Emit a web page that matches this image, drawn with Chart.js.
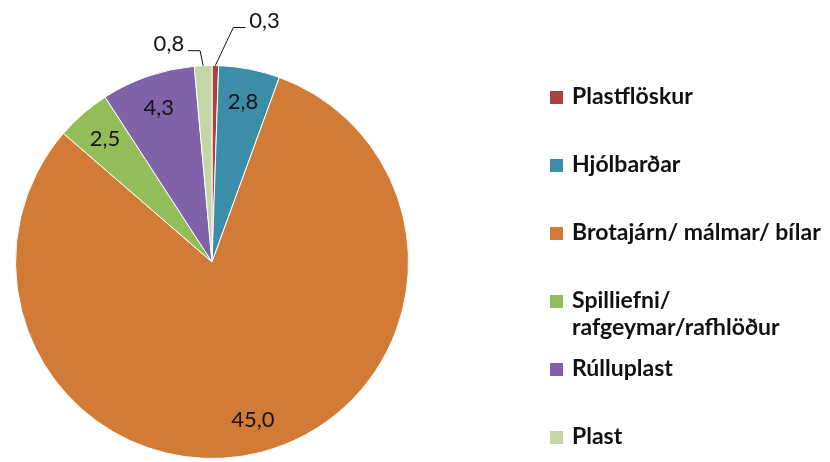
<!DOCTYPE html>
<html>
<head>
<meta charset="utf-8">
<script src="https://cdn.jsdelivr.net/npm/chart.js@4"></script>
<style>
  html, body { margin: 0; padding: 0; background: #fff; }
  #wrap { width: 830px; height: 462px; position: relative; }
</style>
</head>
<body>
<div id="wrap"><canvas id="waste-pie"></canvas></div>
<script>
const categories = [
    'Plastflöskur',
    'Hjólbarðar',
    'Brotajárn/ málmar/ bílar',
    ['Spilliefni/', 'rafgeymar/rafhlöður'],
    'Rúlluplast',
    'Plast'
];
const values = [0.3, 2.8, 45.0, 2.5, 4.3, 0.8];
const valueLabels = ['0,3', '2,8', '45,0', '2,5', '4,3', '0,8'];
const sliceColors = ['#A8423F', '#3C8EA8', '#D27B36', '#92BD58', '#7F62A7', '#C4D6A6'];

const FONT = 'Lato, "Open Sans", sans-serif';

// value labels inside the slices, leader lines for the two thin ones
const valueLabelPlugin = {
    id: 'valueLabels',
    afterDatasetsDraw(chart) {
        const ctx = chart.ctx;
        const arcs = chart.getDatasetMeta(0).data;
        ctx.save();
        ctx.fillStyle = '#141414';
        ctx.strokeStyle = '#111';
        ctx.lineWidth = 1;
        ctx.font = '22px ' + FONT;
        ctx.textBaseline = 'middle';
        arcs.forEach((arc, i) => {
            const p = arc.getProps(['x', 'y', 'startAngle', 'endAngle', 'outerRadius'], true);
            const mid = (p.startAngle + p.endAngle) / 2;
            if (values[i] >= 2) {
                const r = p.outerRadius * 0.83;
                ctx.textAlign = 'center';
                ctx.fillText(valueLabels[i], p.x + Math.cos(mid) * r, p.y + Math.sin(mid) * r);
                return;
            }
            const ax = p.x + Math.cos(mid) * p.outerRadius;
            const ay = p.y + Math.sin(mid) * p.outerRadius;
            const side = i === 0 ? 1 : -1;
            const ex = ax + (i === 0 ? 18 : -3);
            const ey = ay + (i === 0 ? -38 : -15);
            const tx = ex + side * 12;
            ctx.beginPath();
            ctx.moveTo(ax, ay);
            ctx.lineTo(ex, ey);
            ctx.lineTo(tx, ey);
            ctx.stroke();
            ctx.textAlign = side > 0 ? 'left' : 'right';
            ctx.fillText(valueLabels[i], tx + side * 4, ey - 7);
        });
        ctx.restore();
    }
};

// legend on the right, fixed slots like the original
const sideLegendPlugin = {
    id: 'sideLegend',
    afterDraw(chart) {
        const ctx = chart.ctx;
        const x0 = 550, y0 = 97, step = 68, lineH = 27;
        ctx.save();
        ctx.font = 'bold 23px ' + FONT;
        ctx.textBaseline = 'middle';
        ctx.textAlign = 'left';
        categories.forEach((label, i) => {
            const y = y0 + i * step;
            ctx.fillStyle = sliceColors[i];
            ctx.fillRect(x0, y - 6, 13, 13);
            ctx.fillStyle = '#111';
            const lines = Array.isArray(label) ? label : [label];
            lines.forEach((t, k) => ctx.fillText(t, x0 + 22, y + k * lineH));
        });
        ctx.restore();
    }
};

const pieData = {
    labels: categories,
    datasets: [{
        data: values,
        backgroundColor: sliceColors,
        borderColor: '#ffffff',
        borderWidth: 1
    }]
};

const pieConfig = {
    type: 'pie',
    data: pieData,
    options: {
        responsive: true,
        maintainAspectRatio: false,
        animation: false,
        layout: {
            padding: { left: 15, right: 421, top: 65, bottom: 3 }
        },
        plugins: {
            legend: { display: false },
            tooltip: { enabled: false }
        }
    },
    plugins: [valueLabelPlugin, sideLegendPlugin]
};

const pieChart = new Chart(
    document.getElementById('waste-pie'),
    pieConfig
);
</script>
</body>
</html>
